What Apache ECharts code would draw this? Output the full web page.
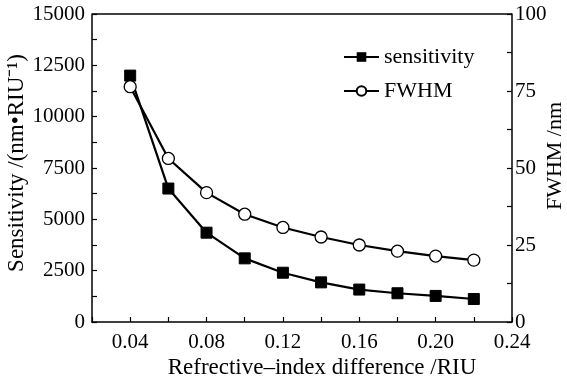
<!DOCTYPE html>
<html><head><meta charset="utf-8">
<script src="https://cdn.jsdelivr.net/npm/echarts@6/dist/echarts.min.js"></script>
<style>html,body{margin:0;padding:0;background:#fff}#c{width:567px;height:381px}</style>
</head><body><div id="c"></div>
<script>
const xValues = [0.04, 0.06, 0.08, 0.10, 0.12, 0.14, 0.16, 0.18, 0.20, 0.22];
const sensitivity = [12000, 6500, 4350, 3100, 2400, 1930, 1580, 1400, 1270, 1120];
const fwhm = [76.4, 53.1, 42.0, 35.0, 30.7, 27.6, 25.0, 23.0, 21.4, 20.1];

const F = 'Liberation Serif';
const chart = echarts.init(document.getElementById('c'));
const axisLine = {show: true, lineStyle: {color: '#000', width: 1.5}};
chart.setOption({
  animation: false,
  backgroundColor: '#fff',
  grid: {left: 92, right: 55, top: 14, bottom: 59, outerBoundsMode: 'none', containLabel: false},
  legend: {
    left: 343, top: 46, padding: 0, orient: 'vertical', itemGap: 12, itemWidth: 35, itemHeight: 12,
    textStyle: {fontFamily: F, fontSize: 22, color: '#000'},
    data: ['sensitivity', 'FWHM']
  },
  xAxis: {
    type: 'value', min: 0.02, max: 0.24, interval: 0.02,
    name: 'Refrective\u2013index difference /RIU', nameLocation: 'middle', nameGap: 34, nameMoveOverlap: false,
    nameTextStyle: {fontFamily: F, fontSize: 23, color: '#000', padding: [0, 0, 0, 40]},
    axisLine: axisLine,
    axisTick: {show: true, inside: true, length: 5, lineStyle: {color: '#000', width: 1.2}},
    axisLabel: {fontFamily: F, fontSize: 21, color: '#000', margin: 10,
      formatter: v => { const k = Math.round(v * 100); return (k % 4 === 0) ? (v).toFixed(2) : ''; }},
    splitLine: {show: false}
  },
  yAxis: [{
    type: 'value', min: 0, max: 15000, interval: 2500, position: 'left',
    name: 'Sensitivity /(nm\u2022RIU\u207B\u00B9)', nameLocation: 'middle', nameGap: 64, nameMoveOverlap: false,
    nameTextStyle: {fontFamily: F, fontSize: 23, color: '#000', padding: [0, 0, 0, 10]},
    axisLine: axisLine,
    axisTick: {show: true, inside: true, length: 5, lineStyle: {color: '#000', width: 1.2}},
    minorTick: {show: true, splitNumber: 2, length: 5, lineStyle: {color: '#000', width: 1.2}},
    axisLabel: {fontFamily: F, fontSize: 21, color: '#000', margin: 7, formatter: v => String(v)},
    splitLine: {show: false}
  }, {
    type: 'value', min: 0, max: 100, interval: 25, position: 'right',
    name: 'FWHM /nm', nameLocation: 'middle', nameGap: 32, nameMoveOverlap: false,
    nameTextStyle: {fontFamily: F, fontSize: 22, color: '#000', padding: [0, 0, 0, 24]},
    axisLine: axisLine,
    axisTick: {show: true, inside: true, length: 5, lineStyle: {color: '#000', width: 1.2}},
    minorTick: {show: true, splitNumber: 2, length: 5, lineStyle: {color: '#000', width: 1.2}},
    axisLabel: {fontFamily: F, fontSize: 21, color: '#000', margin: 3, formatter: v => String(v)},
    splitLine: {show: false}
  }],
  graphic: [{type: 'line', shape: {x1: 92, y1: 14, x2: 512, y2: 14}, style: {stroke: '#000', lineWidth: 1.5}}],
  series: [{
    name: 'sensitivity', type: 'line', yAxisIndex: 0,
    data: xValues.map((x, i) => [x, sensitivity[i]]),
    symbol: 'rect', symbolSize: 11,
    lineStyle: {color: '#000', width: 2.2},
    itemStyle: {color: '#000', borderColor: '#000'}
  }, {
    name: 'FWHM', type: 'line', yAxisIndex: 1,
    data: xValues.map((x, i) => [x, fwhm[i]]),
    symbol: 'circle', symbolSize: 12,
    lineStyle: {color: '#000', width: 2.2},
    itemStyle: {color: '#fff', borderColor: '#000', borderWidth: 1.3}
  }]
});
</script></body></html>
